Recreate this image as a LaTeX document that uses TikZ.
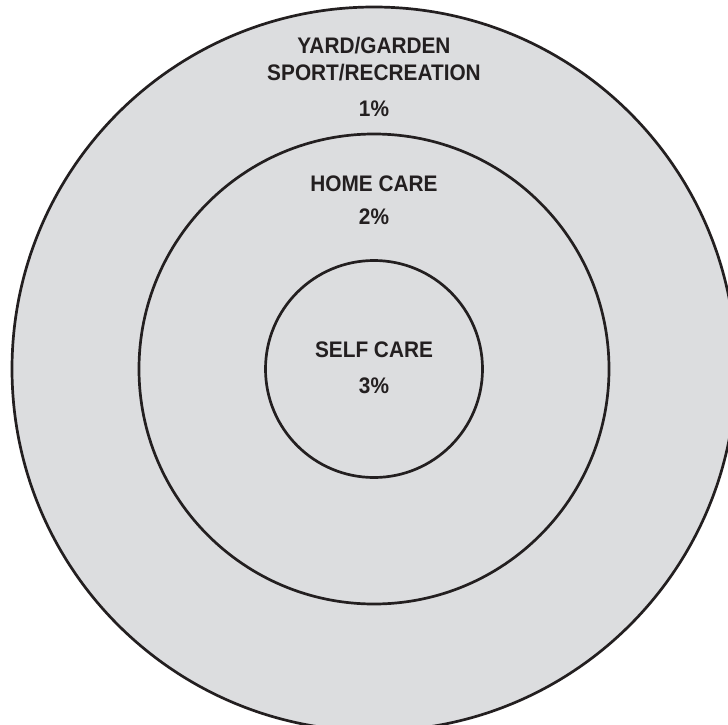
\documentclass[tikz,border=0pt]{standalone}
\usepackage{fontspec}
\setmainfont{Liberation Sans}[FakeStretch=0.925]
\definecolor{ringgray}{RGB}{220,221,223}
\definecolor{inkdark}{RGB}{35,31,32}

\begin{document}
\begin{tikzpicture}[x=1pt,y=-1pt,
    ring/.style={draw=inkdark,line width=2.7pt,fill=ringgray},
    lbl/.style={anchor=base,inner sep=0pt,text=inkdark,font=\fontsize{22.5}{24}\selectfont\bfseries}]
  \useasboundingbox (0,0) rectangle (728,725);
  \coordinate (ctr) at (374,369);
  \draw[ring] (ctr) circle (362);
  \draw[ring] (ctr) circle (235);
  \draw[ring] (ctr) circle (108.5);
  \node[lbl] (yard) at (374,53) {YARD/GARDEN};
  \node[lbl] (sport) at (374,80.7) {SPORT/RECREATION};
  \node[lbl] (pctout) at (374,116.7) {1\%};
  \node[lbl] (home) at (374,191) {HOME CARE};
  \node[lbl] (pctmid) at (374,224) {2\%};
  \node[lbl] (self) at (374,357) {SELF CARE};
  \node[lbl] (pctin) at (374,393) {3\%};
\end{tikzpicture}
\end{document}
